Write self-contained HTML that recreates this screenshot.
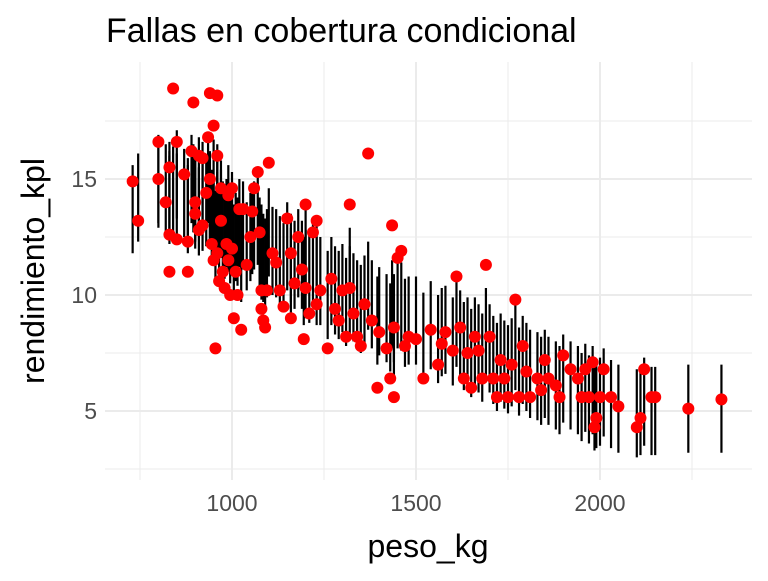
<!DOCTYPE html>
<html><head><meta charset="utf-8">
<style>
body{margin:0;background:#fff;font-family:"Liberation Sans",sans-serif;}
svg text{font-family:"Liberation Sans",sans-serif;}
</style></head>
<body>
<svg id="chart" width="768" height="576">
<text x="106" y="42" font-size="34" fill="#000">Fallas en cobertura condicional</text>
<g id="grid"></g>
<g id="bars"></g>
<g id="pts"></g>
<g id="axes"></g>
<text x="428" y="557" font-size="32" text-anchor="middle" fill="#000">peso_kg</text>
<text transform="translate(44,271) rotate(-90)" font-size="32" text-anchor="middle" fill="#000">rendimiento_kpl</text>
</svg>
<script>
const xTicks=[1000,1500,2000];
const xMinor=[750,1250,1750,2250];
const yTicks=[5,10,15];
const yMinor=[2.5,7.5,12.5,17.5];
const peso=[730,745,800,800,820,830,830,830,840,850,850,870,880,880,890,895,900,900,910,910,920,920,930,935,940,940,945,950,950,955,960,960,960,965,970,970,975,980,985,990,990,995,1000,1000,1005,1010,1015,1020,1025,1030,1040,1050,1055,1060,1070,1075,1080,1080,1085,1090,1095,1100,1110,1120,1130,1140,1150,1160,1160,1170,1180,1190,1195,1200,1200,1210,1220,1230,1230,1240,1260,1270,1280,1290,1300,1310,1320,1320,1330,1340,1350,1360,1370,1380,1395,1400,1420,1430,1435,1440,1440,1450,1460,1470,1480,1500,1520,1540,1560,1570,1580,1600,1610,1620,1630,1640,1650,1660,1670,1680,1690,1700,1710,1720,1730,1740,1750,1760,1770,1780,1790,1800,1810,1830,1840,1850,1860,1880,1890,1900,1920,1940,1950,1960,1970,1980,1985,1990,2000,2010,2030,2050,2100,2110,2120,2140,2150,2240,2330];
const rendimiento=[14.9,13.2,16.6,15,14,15.5,12.6,11,18.9,12.4,16.6,15.2,12.3,11,16.2,18.3,14,13.5,16,12.8,15.9,13,14.4,16.8,18.7,15,12.2,17.3,11.5,7.7,18.6,16,11.8,10.6,14.6,13.2,11,10.3,12.2,14.3,11.5,10,14.6,12,9,11,10,13.7,8.5,13.7,11.3,12.5,13.6,14.6,15.3,12.7,9.4,10.2,8.9,8.6,10.2,15.7,11.8,11.4,10.2,9.5,13.3,11.8,9,10.5,12.5,11.1,8.1,13.9,10.3,9.2,12.7,9.6,13.2,10.2,7.7,10.7,9.4,8.9,10.2,8.2,13.9,10.3,9.2,8.2,7.8,9.6,16.1,8.9,6,8.4,7.7,6.4,13,5.6,8.6,11.6,11.9,7.8,8.2,8.1,6.4,8.5,7,7.9,8.4,7.6,10.8,8.6,6.4,7.5,6,8.2,7.6,6.4,11.3,8.2,6.4,5.6,7.2,6.4,5.6,7,9.8,5.6,7.8,6.7,5.6,6.4,5.9,7.2,6.4,6.1,5.6,7.4,6.8,6.4,5.6,6.8,5.6,7.1,4.3,4.7,5.6,6.8,5.6,5.2,4.3,4.7,6.8,5.6,5.6,5.1,5.5];
const prediccion=[13.7,14.2,15.0,14.8,14.6,14.7,14.3,14.1,14.5,14.2,15.2,14.4,14.0,13.7,15.0,14.6,14.2,13.9,14.9,13.6,14.7,13.8,14.0,15.0,14.3,14.1,13.5,14.8,13.2,12.6,14.2,14.6,13.4,12.8,13.9,13.5,13.0,12.6,13.1,13.7,12.9,12.4,13.4,12.8,12.0,12.5,12.3,13.1,11.6,13.0,12.1,12.5,12.8,13.0,13.2,12.3,11.7,12.0,11.6,11.4,11.8,12.7,11.9,11.8,11.5,11.2,12.1,11.6,11.0,11.3,11.8,11.3,10.6,11.9,10.9,10.7,11.4,10.6,11.3,10.6,10.0,10.6,10.2,10.0,10.3,9.7,11.0,10.2,9.9,9.6,9.4,9.8,10.4,9.6,8.9,9.3,9.0,8.6,9.6,8.3,9.0,9.6,9.5,8.8,8.9,8.9,8.2,8.7,8.1,8.4,8.5,8.0,8.8,8.3,7.8,8.0,7.5,8.0,7.7,7.3,8.4,7.7,7.2,6.9,7.3,7.0,6.8,7.1,7.8,6.7,7.2,6.9,6.6,6.5,6.3,6.6,6.3,6.1,5.9,6.4,6.1,5.9,5.6,6.0,5.5,5.9,5.2,5.3,5.4,5.8,5.3,5.1,4.9,5.0,5.4,5.0,5.0,5.1,5.1];
const halfWidth=1.9;
const X=v=>232+(v-1000)*0.368;
const Y=v=>295-(v-10)*23.2;
const NS="http://www.w3.org/2000/svg";
function mk(p,t,a){const e=document.createElementNS(NS,t);for(const k in a)e.setAttribute(k,a[k]);p.appendChild(e);return e;}
const grid=document.getElementById('grid');
xMinor.forEach(v=>{const l=mk(grid,'line',{x1:X(v),x2:X(v),y1:62,y2:480,stroke:'#ebebeb','stroke-width':1});

});
yMinor.forEach(v=>{const l=mk(grid,'line',{x1:105,x2:752,y1:Y(v),y2:Y(v),stroke:'#ebebeb','stroke-width':1});

});
xTicks.forEach(v=>{const l=mk(grid,'line',{x1:X(v),x2:X(v),y1:62,y2:480,stroke:'#ebebeb','stroke-width':2});

});
yTicks.forEach(v=>{const l=mk(grid,'line',{x1:105,x2:752,y1:Y(v),y2:Y(v),stroke:'#ebebeb','stroke-width':2});

});
const bars=document.getElementById('bars');
peso.forEach((p,i)=>{const l=mk(bars,'line',{x1:X(p),x2:X(p),y1:Y(prediccion[i]+halfWidth),y2:Y(prediccion[i]-halfWidth),stroke:'#000','stroke-width':2.2});

});
const pts=document.getElementById('pts');
peso.forEach((p,i)=>{const c=mk(pts,'circle',{cx:X(p),cy:Y(rendimiento[i]),r:6,fill:'#ff0000'});

});
const axes=document.getElementById('axes');
xTicks.forEach(v=>{const t=mk(axes,'text',{x:X(v),y:511,'font-size':23,'text-anchor':'middle',fill:'#4d4d4d'});t.textContent=v;

});
yTicks.forEach(v=>{const t=mk(axes,'text',{x:97,y:Y(v)+8,'font-size':23,'text-anchor':'end',fill:'#4d4d4d'});t.textContent=v;

});
</script>
</body></html>
